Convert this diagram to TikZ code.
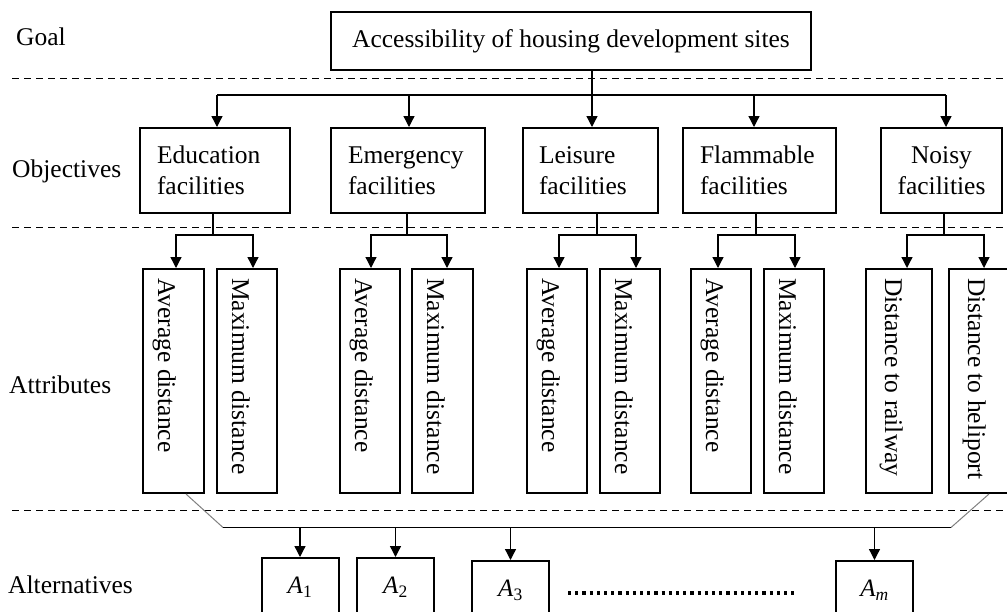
\documentclass[tikz,border=0pt]{standalone}
\usepackage{fontspec}
\setmainfont{Liberation Serif}
\usetikzlibrary{arrows.meta}
\begin{document}
\begin{tikzpicture}[x=1pt,y=-1pt,
  every node/.style={font=\fontsize{25.5pt}{31pt}\selectfont, inner sep=0pt},
  box/.style={draw, line width=2pt},
  objbox/.style={box, minimum height=85pt, inner xsep=17pt, align=left},
  attrbox/.style={box, minimum height=224pt},
  vtext/.style={rotate=-90, anchor=base west},
  altbox/.style={box, minimum width=77pt, minimum height=58pt, font=\fontsize{25pt}{30pt}\selectfont},
  conn/.style={line width=1.3pt},
  arr/.style={conn, -{Triangle[length=11pt,width=11pt]}},
  sepline/.style={line width=1.6pt, dash pattern=on 7pt off 5pt},
  thinline/.style={line width=1pt},
  dotline/.style={line width=3.2pt, dash pattern=on 3.2pt off 4pt},
]
\fill[white] (0,0) rectangle (1007,611);
\useasboundingbox (0,0) rectangle (1007,611);

% separators
\draw[sepline] (12,78.5) -- (1012,78.5);
\draw[sepline] (12,227.5) -- (1012,227.5);
\draw[sepline] (12,510.5) -- (1012,510.5);

% level labels
\node[anchor=base west] (lgoal) at (16,45) {Goal};
\node[anchor=base west] (lobj) at (12,177) {Objectives};
\node[anchor=base west] (lattr) at (9,393) {Attributes};
\node[anchor=base west] (lalt) at (8,593) {Alternatives};

% goal
\node[box, minimum width=480pt, minimum height=58pt] (goal) at (571,41) {Accessibility of housing development sites};

% objectives
\node[objbox, text width=116pt] (ed) at (215,170.5) {Education\\facilities};
\node[objbox, text width=120pt] (em) at (408,170.5) {Emergency\\facilities};
\node[objbox, text width=103pt, inner xsep=16pt] (le) at (590.5,170.5) {Leisure\\facilities};
\node[objbox, text width=119pt] (fl) at (759.5,170.5) {Flammable\\facilities};
\node[objbox, text width=91pt, inner xsep=15pt, align=center] (no) at (941.5,170.5) {Noisy\\facilities};

% goal -> objectives
\coordinate (bus0) at (592,95);
\draw[conn] (goal.south -| bus0) -- (bus0);
\draw[conn] ([xshift=2pt]ed.north |- bus0) -- ([xshift=4.5pt]no.north |- bus0);
\draw[arr] ([xshift=2pt]ed.north |- bus0) -- ([xshift=2pt]ed.north);
\draw[arr] ([xshift=1pt]em.north |- bus0) -- ([xshift=1pt]em.north);
\draw[arr] ([xshift=1.5pt]le.north |- bus0) -- ([xshift=1.5pt]le.north);
\draw[arr] ([xshift=-5.5pt]fl.north |- bus0) -- ([xshift=-5.5pt]fl.north);
\draw[arr] ([xshift=4.5pt]no.north |- bus0) -- ([xshift=4.5pt]no.north);

% attributes
\node[attrbox, minimum width=61pt] (ed1) at (173.5,381) {};
\node[attrbox, minimum width=60pt] (ed2) at (247,381) {};
\node[attrbox, minimum width=60pt] (em1) at (370,381) {};
\node[attrbox, minimum width=61pt] (em2) at (442.5,381) {};
\node[attrbox, minimum width=60pt] (le1) at (557,381) {};
\node[attrbox, minimum width=60pt] (le2) at (630,381) {};
\node[attrbox, minimum width=60pt] (fl1) at (721,381) {};
\node[attrbox, minimum width=60pt] (fl2) at (794,381) {};
\node[attrbox, minimum width=66pt] (no1) at (899,381) {};
\node[attrbox, minimum width=66pt] (no2) at (982,381) {};

\node[vtext] (ed1t) at ([xshift=16pt,yshift=-10pt]ed1.north west) {Average distance};
\node[vtext] (ed2t) at ([xshift=16pt,yshift=-10pt]ed2.north west) {Maximum distance};
\node[vtext] (em1t) at ([xshift=16pt,yshift=-10pt]em1.north west) {Average distance};
\node[vtext] (em2t) at ([xshift=16pt,yshift=-10pt]em2.north west) {Maximum distance};
\node[vtext] (le1t) at ([xshift=16pt,yshift=-10pt]le1.north west) {Average distance};
\node[vtext] (le2t) at ([xshift=16pt,yshift=-10pt]le2.north west) {Maximum distance};
\node[vtext] (fl1t) at ([xshift=16pt,yshift=-10pt]fl1.north west) {Average distance};
\node[vtext] (fl2t) at ([xshift=16pt,yshift=-10pt]fl2.north west) {Maximum distance};
\node[vtext] (no1t) at ([xshift=20pt,yshift=-10pt]no1.north west) {Distance to railway};
\node[vtext] (no2t) at ([xshift=20pt,yshift=-10pt]no2.north west) {Distance to heliport};

% objectives -> attributes
\coordinate (edb) at (213,235);
\coordinate (emb) at (407,235);
\coordinate (leb) at (597,235);
\coordinate (flb) at (756,235);
\coordinate (nob) at (944,235);
\draw[conn] (ed.south -| edb) -- (edb);
\draw[conn] (em.south -| emb) -- (emb);
\draw[conn] (le.south -| leb) -- (leb);
\draw[conn] (fl.south -| flb) -- (flb);
\draw[conn] (no.south -| nob) -- (nob);
\draw[arr] (edb) -| ([xshift=2.5pt]ed1.north);
\draw[arr] (edb) -| ([xshift=6pt]ed2.north);
\draw[arr] (emb) -| ([xshift=1pt]em1.north);
\draw[arr] (emb) -| ([xshift=4.5pt]em2.north);
\draw[arr] (leb) -| ([xshift=2pt]le1.north);
\draw[arr] (leb) -| ([xshift=6pt]le2.north);
\draw[arr] (flb) -| ([xshift=-3pt]fl1.north);
\draw[arr] (flb) -| ([xshift=1pt]fl2.north);
\draw[arr] (nob) -| ([xshift=8pt]no1.north);
\draw[arr] (nob) -| ([xshift=2pt]no2.north);

% alternatives
\node[altbox] (a1) at (300,587) {\itshape A\textsubscript{\upshape 1}};
\node[altbox] (a2) at (395.5,587) {\itshape A\textsubscript{\upshape 2}};
\node[altbox] (a3) at (510.5,590) {\itshape A\textsubscript{\upshape 3}};
\node[altbox] (am) at (874.5,590) {\itshape A\textsubscript{m}};

\coordinate (busL) at (223,527.5);
\coordinate (busR) at (951,527.5);
\draw[thinline, gray] ([xshift=12.5pt]ed1.south) -- (busL);
\draw[thinline] (busL) -- (busR);
\draw[thinline, gray] (busR) -- ([xshift=7pt]no2.south);
\draw[arr] (a1.north |- busL) -- (a1.north);
\draw[arr] (a2.north |- busL) -- (a2.north);
\draw[arr] (a3.north |- busL) -- (a3.north);
\draw[arr] (am.north |- busL) -- (am.north);

\coordinate (dotsL) at (568,593);
\coordinate (dotsR) at (797,593);
\draw[dotline] (dotsL) -- (dotsR);
\end{tikzpicture}
\end{document}
